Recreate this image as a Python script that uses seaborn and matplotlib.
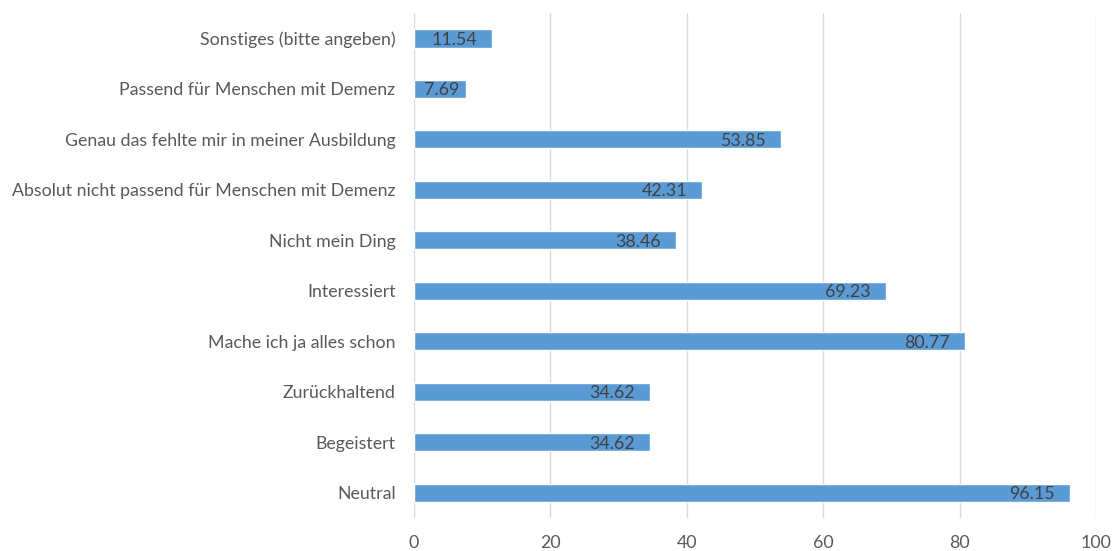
import matplotlib
matplotlib.use("Agg")
import matplotlib.pyplot as plt
import seaborn as sns
import pandas as pd

categories = [
    "Sonstiges (bitte angeben)",
    "Passend für Menschen mit Demenz",
    "Genau das fehlte mir in meiner Ausbildung",
    "Absolut nicht passend für Menschen mit Demenz",
    "Nicht mein Ding",
    "Interessiert",
    "Mache ich ja alles schon",
    "Zurückhaltend",
    "Begeistert",
    "Neutral",
]
values = [11.54, 7.69, 53.85, 42.31, 38.46, 69.23, 80.77, 34.62, 34.62, 96.15]
x_ticks = [0, 20, 40, 60, 80, 100]

sns.set_theme(style="white")
plt.rcParams["font.family"] = ["Lato", "DejaVu Sans"]

df = pd.DataFrame({"Kategorie": categories, "Wert": values})

fig = plt.figure(figsize=(11.15, 5.51), dpi=100)
ax = fig.add_axes([0.371, 0.060, 0.612, 0.916])

sns.barplot(data=df, y="Kategorie", x="Wert", orient="h", color="#5B9BD5",
            saturation=1, width=0.36, ax=ax, zorder=3)

ax.set_xlim(0, 100)
ax.set_ylim(len(categories) - 0.5, -0.5)
ax.set_xticks(x_ticks)
ax.set_xticklabels([str(t) for t in x_ticks])
ax.set_xlabel("")
ax.set_ylabel("")

ax.xaxis.grid(True, color="#D9D9D9", linewidth=1.0, zorder=0)
ax.yaxis.grid(False)
for s in ax.spines.values():
    s.set_visible(False)

ax.tick_params(axis="x", colors="#595959", labelsize=12.8, length=0, pad=12)
ax.tick_params(axis="y", colors="#595959", labelsize=12.8, length=0, pad=13)

# value labels at the inner end of each bar (shorter bars get a tighter inset)
for i, v in enumerate(values):
    inset = 5 if v < 10 else 11
    ax.annotate(f"{v:.2f}", xy=(v, i), xytext=(-inset, -1),
                textcoords="offset points", ha="right", va="center",
                color="#404040", fontsize=12.8, zorder=4)

fig.savefig("out.png", dpi=100)
